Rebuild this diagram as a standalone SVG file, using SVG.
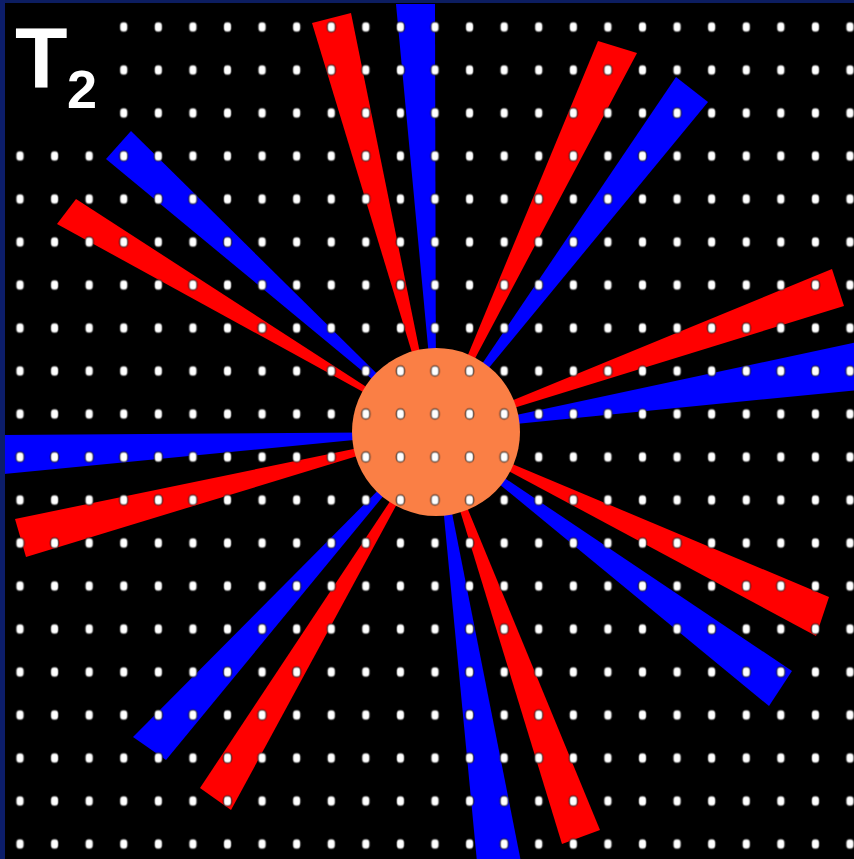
<svg xmlns="http://www.w3.org/2000/svg" width="854" height="859" viewBox="0 0 854 859">
  <defs>
    <style>
      .red { fill: #ff0000; }
      .blue { fill: #0000ff; }
      .label { fill: #ffffff; font-family: "Liberation Sans", Arial, sans-serif; font-weight: bold; }
    </style>
    <pattern id="dots" patternUnits="userSpaceOnUse" x="2.71" y="5.5" width="34.583" height="43">
      <rect x="13.3" y="16.5" width="8" height="10" rx="3.5" ry="4" fill="#ffffff" stroke="#000000" stroke-opacity="0.55" stroke-width="1.6"/>
    </pattern>
    <filter id="soft" x="0" y="0" width="1" height="1">
      <feGaussianBlur stdDeviation="0.5"/>
    </filter>
  </defs>

  <rect x="0" y="0" width="854" height="859" fill="#000000"/>

  <g id="connectors">
    <polygon id="ray-red-1" class="red" points="436,432 312,23 351,13"/>
    <polygon id="ray-blue-2" class="blue" points="436,432 396,4 435,4"/>
    <polygon id="ray-red-3" class="red" points="436,432 598,41 637,53"/>
    <polygon id="ray-blue-4" class="blue" points="436,432 676,77 708,102"/>
    <polygon id="ray-red-5" class="red" points="436,432 832,269 844,306"/>
    <polygon id="ray-blue-6" class="blue" points="436,432 858,342 858,390"/>
    <polygon id="ray-red-7" class="red" points="436,432 829,597 816,636"/>
    <polygon id="ray-blue-8" class="blue" points="436,432 792,671 769,706"/>
    <polygon id="ray-red-9" class="red" points="436,432 600,830 562,844"/>
    <polygon id="ray-blue-10" class="blue" points="436,432 521,862 477,862"/>
    <polygon id="ray-red-11" class="red" points="436,432 231,810 200,788"/>
    <polygon id="ray-blue-12" class="blue" points="436,432 166,760 133,737"/>
    <polygon id="ray-red-13" class="red" points="436,432 26,557 15,519"/>
    <polygon id="ray-blue-14" class="blue" points="436,432 4,474 4,435"/>
    <polygon id="ray-red-15" class="red" points="436,432 57,224 76,199"/>
    <polygon id="ray-blue-16" class="blue" points="436,432 106,159 131,131"/>
  </g>

  <g id="core">
    <circle cx="436" cy="432" r="84" fill="#fa7f45"/>
  </g>

  <g id="grid">
    <rect x="0" y="0" width="854" height="859" fill="url(#dots)" filter="url(#soft)"/>
  </g>

  <g id="label">
    <rect x="0" y="0" width="106" height="132" fill="#000000"/>
    <text class="label" x="15" y="87" font-size="86">T</text>
    <text class="label" x="67" y="108" font-size="54">2</text>
  </g>

  <g id="frame">
    <rect x="0" y="0" width="854" height="3" fill="#0c1d60"/>
    <rect x="0" y="0" width="5" height="859" fill="#0c1d6a"/>
  </g>
</svg>
